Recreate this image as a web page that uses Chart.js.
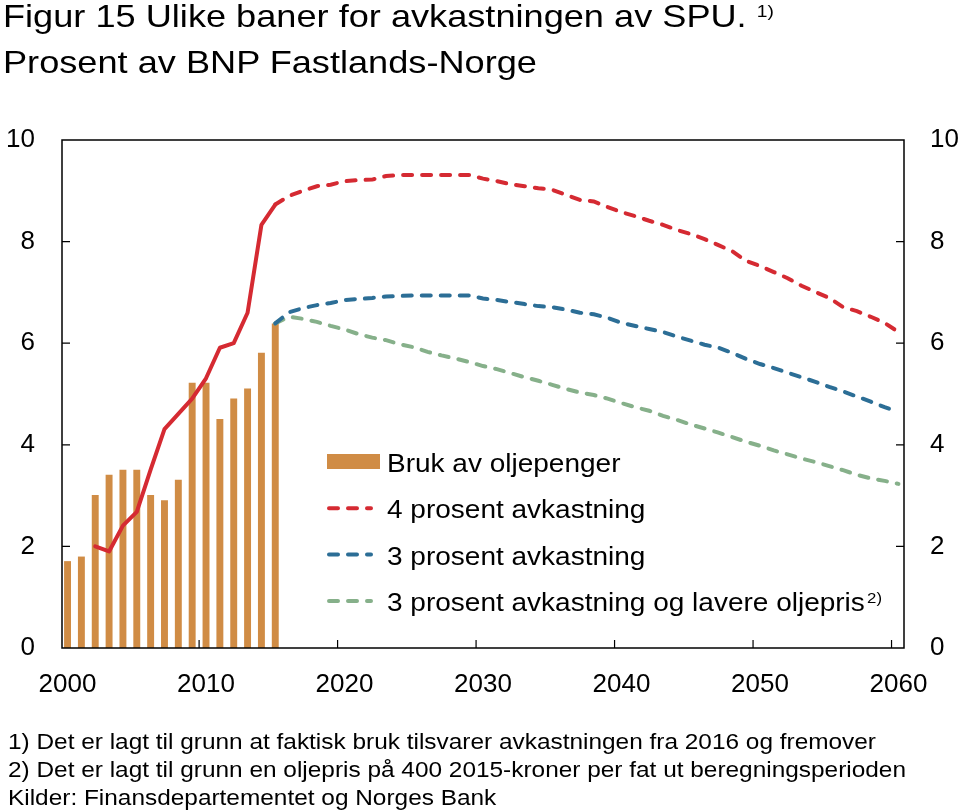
<!DOCTYPE html>
<html>
<head>
<meta charset="utf-8">
<script src="https://cdn.jsdelivr.net/npm/chart.js@4.4.1/dist/chart.umd.min.js"></script>
<style>
body { margin: 0; background: #fff; }
#wrap { position: relative; width: 960px; height: 812px; overflow: hidden; font-family: "Liberation Sans", Arial, sans-serif; color: #000; }
#myChart { position: absolute; left: 0; top: 0; }
.txt { position: absolute; white-space: nowrap; transform: scaleX(1.13); transform-origin: 0 0; }
#title { left: 3px; top: -4px; font-size: 32px; line-height: 40px; }
#title .sup { font-size: 17px; position: relative; top: -10px; margin-left: 9px; }
#notes { left: 8px; top: 728px; font-size: 21.6px; line-height: 28px; }
</style>
</head>
<body>
<div id="wrap">
  <canvas id="myChart" width="960" height="812"></canvas>
  <div id="title" class="txt">Figur 15 Ulike baner for avkastningen av SPU.<span class="sup">1)</span><br>Prosent av BNP Fastlands-Norge</div>
  <div id="notes" class="txt">1) Det er lagt til grunn at faktisk bruk tilsvarer avkastningen fra 2016 og fremover<br>2) Det er lagt til grunn en oljepris på 400 2015-kroner per fat ut beregningsperioden<br>Kilder: Finansdepartementet og Norges Bank</div>
</div>
<script>
// bars: bruk av oljepenger
const barYears = [2000, 2001, 2002, 2003, 2004, 2005, 2006, 2007, 2008, 2009, 2010, 2011, 2012, 2013, 2014, 2015];
const bruk = [1.71, 1.80, 3.01, 3.41, 3.51, 3.51, 3.01, 2.91, 3.31, 5.22, 5.22, 4.51, 4.91, 5.11, 5.81, 6.39];

// solid red line (history)
const histYears = [2002, 2003, 2004, 2005, 2006, 2007, 2008, 2009, 2010, 2011, 2012, 2013, 2014, 2015];
const hist = [2.00, 1.90, 2.41, 2.68, 3.51, 4.31, 4.61, 4.91, 5.31, 5.91, 6.00, 6.60, 8.33, 8.73];

// projections
const projYears = [2015, 2016, 2017, 2018, 2019, 2020, 2021, 2022, 2023, 2024, 2025, 2026, 2027, 2028, 2029,
  2030, 2031, 2032, 2033, 2034, 2035, 2036, 2037, 2038, 2039, 2040, 2041, 2042, 2043, 2044,
  2045, 2046, 2047, 2048, 2049, 2050, 2051, 2052, 2053, 2054, 2055, 2056, 2057, 2058, 2059, 2060];
const ret4 = [8.73, 8.90, 9.00, 9.09, 9.12, 9.19, 9.21, 9.22, 9.29, 9.31, 9.31, 9.31, 9.31, 9.31, 9.31,
  9.24, 9.19, 9.13, 9.09, 9.05, 9.02, 8.92, 8.82, 8.79, 8.68, 8.58, 8.50, 8.41, 8.33, 8.23,
  8.15, 8.05, 7.93, 7.81, 7.62, 7.52, 7.40, 7.28, 7.13, 7.01, 6.89, 6.71, 6.63, 6.52, 6.40, 6.22];
const ret3 = [6.39, 6.61, 6.69, 6.75, 6.79, 6.85, 6.87, 6.89, 6.92, 6.93, 6.94, 6.94, 6.94, 6.94, 6.94,
  6.88, 6.85, 6.81, 6.77, 6.73, 6.71, 6.66, 6.60, 6.57, 6.50, 6.40, 6.34, 6.28, 6.22, 6.13,
  6.05, 5.97, 5.91, 5.81, 5.69, 5.59, 5.51, 5.42, 5.33, 5.24, 5.14, 5.05, 4.95, 4.85, 4.74, 4.65];
const ret3low = [6.39, 6.52, 6.48, 6.42, 6.34, 6.27, 6.18, 6.11, 6.06, 5.98, 5.92, 5.83, 5.76, 5.70, 5.63,
  5.55, 5.49, 5.41, 5.33, 5.26, 5.18, 5.10, 5.03, 4.98, 4.91, 4.82, 4.74, 4.67, 4.57, 4.49,
  4.40, 4.32, 4.24, 4.15, 4.06, 3.98, 3.89, 3.81, 3.73, 3.66, 3.58, 3.50, 3.41, 3.34, 3.29, 3.23];

const xLabels = [2000, 2010, 2020, 2030, 2040, 2050, 2060];
const xTickMarks = [2009.5, 2019.5, 2029.5, 2039.5, 2049.5, 2059.5];
const yTicks = [2, 4, 6, 8];

const FONT = '"Liberation Sans", Arial, sans-serif';
const DASH = [9, 10];

function pts(xs, ys) {
  return xs.map((x, i) => ({ x: x, y: ys[i] }));
}

// frame and inward tick marks
const frame = {
  id: 'frame',
  afterDatasetsDraw(chart) {
    const { ctx, chartArea: a, scales } = chart;
    ctx.save();
    ctx.strokeStyle = '#000';
    ctx.lineWidth = 1.5;
    ctx.strokeRect(a.left, a.top, a.right - a.left, a.bottom - a.top);
    ctx.lineWidth = 1.2;
    ctx.beginPath();
    yTicks.forEach(v => {
      const y = scales.y.getPixelForValue(v);
      ctx.moveTo(a.left, y); ctx.lineTo(a.left + 8, y);
      ctx.moveTo(a.right, y); ctx.lineTo(a.right - 8, y);
    });
    xTickMarks.forEach(v => {
      const x = scales.x.getPixelForValue(v);
      ctx.moveTo(x, a.bottom); ctx.lineTo(x, a.bottom - 8);
    });
    ctx.stroke();
    ctx.restore();
  }
};

// legend inside the plot
const legendBox = {
  id: 'legendBox',
  afterDraw(chart) {
    const { ctx, chartArea: a } = chart;
    const x0 = a.left + 265, base = a.top + 332, step = 46.3;
    ctx.save();
    chart.data.datasets.filter(d => d.label).forEach((d, i) => {
      const yb = base + i * step;
      if (d.type === 'line') {
        ctx.strokeStyle = d.borderColor;
        ctx.lineWidth = d.borderWidth;
        ctx.lineCap = 'round';
        ctx.setLineDash(d.borderDash);
        ctx.beginPath();
        ctx.moveTo(x0 + 2, yb - 10);
        ctx.lineTo(x0 + 44, yb - 10);
        ctx.stroke();
        ctx.setLineDash([]);
      } else {
        ctx.fillStyle = d.backgroundColor;
        ctx.fillRect(x0, yb - 18, 53, 15);
      }
      ctx.save();
      ctx.translate(x0 + 60, yb);
      ctx.scale(1.12, 1);
      ctx.fillStyle = '#000';
      ctx.textBaseline = 'alphabetic';
      ctx.font = '25px ' + FONT;
      ctx.fillText(d.label, 0, 0);
      if (d.note) {
        const w = ctx.measureText(d.label).width;
        ctx.font = '15px ' + FONT;
        ctx.fillText(d.note, w + 2, -8);
      }
      ctx.restore();
    });
    ctx.restore();
  }
};

const ctx = document.getElementById('myChart');
new Chart(ctx, {
  type: 'bar',
  data: {
    datasets: [{
      type: 'bar',
      label: 'Bruk av oljepenger',
      data: pts(barYears, bruk),
      backgroundColor: '#d08c45',
      barPercentage: 0.5,
      categoryPercentage: 1,
      order: 3
    }, {
      type: 'line',
      label: '4 prosent avkastning',
      data: pts(projYears, ret4),
      borderColor: '#d52a32',
      borderWidth: 4,
      borderDash: DASH,
      borderCapStyle: 'round',
      pointRadius: 0,
      tension: 0,
      order: 1
    }, {
      type: 'line',
      label: '3 prosent avkastning',
      data: pts(projYears, ret3),
      borderColor: '#2c6e96',
      borderWidth: 4,
      borderDash: DASH,
      borderCapStyle: 'round',
      pointRadius: 0,
      tension: 0,
      order: 2
    }, {
      type: 'line',
      label: '3 prosent avkastning og lavere oljepris',
      note: '2)',
      data: pts(projYears, ret3low),
      borderColor: '#86b08a',
      borderWidth: 4,
      borderDash: DASH,
      borderCapStyle: 'round',
      pointRadius: 0,
      tension: 0,
      order: 2
    }, {
      type: 'line',
      data: pts(histYears, hist),
      borderColor: '#d52a32',
      borderWidth: 4,
      borderJoinStyle: 'round',
      borderCapStyle: 'round',
      pointRadius: 0,
      tension: 0,
      order: 1
    }]
  },
  options: {
    responsive: false,
    animation: false,
    events: [],
    layout: { padding: { top: 140, bottom: 104, left: 0, right: 0 } },
    plugins: { legend: { display: false }, tooltip: { enabled: false } },
    scales: {
      x: {
        type: 'linear',
        min: 1999.6,
        max: 2060.4,
        offset: false,
        grid: { display: false, drawTicks: false },
        border: { display: false },
        afterBuildTicks: ax => { ax.ticks = xLabels.map(v => ({ value: v })); },
        afterFit: ax => { ax.height = 60; },
        ticks: {
          color: '#000',
          font: { size: 26, family: FONT },
          padding: 21,
          maxRotation: 0,
          autoSkip: false,
          callback: v => String(v)
        }
      },
      y: {
        position: 'left',
        min: 0,
        max: 10,
        grid: { display: false, drawTicks: false },
        border: { display: false },
        afterFit: ax => { ax.width = 62; },
        ticks: { stepSize: 2, color: '#000', font: { size: 26, family: FONT }, padding: 27 }
      },
      y2: {
        position: 'right',
        min: 0,
        max: 10,
        grid: { display: false, drawTicks: false },
        border: { display: false },
        afterFit: ax => { ax.width = 56; },
        ticks: { stepSize: 2, color: '#000', font: { size: 26, family: FONT }, padding: 26 }
      }
    }
  },
  plugins: [frame, legendBox]
});
</script>
</body>
</html>
